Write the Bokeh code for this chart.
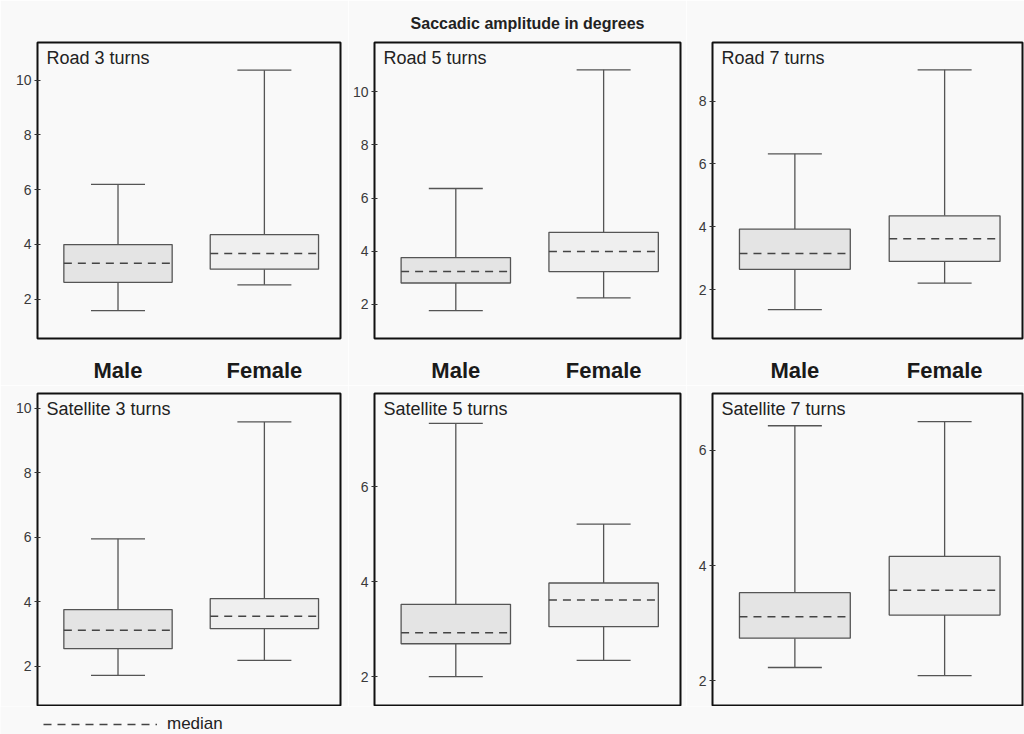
import numpy as np
from bokeh.plotting import figure
from bokeh.layouts import column, row
from bokeh.models import (Range1d, FixedTicker, Label, Legend, LegendItem,
                          Whisker, TeeHead, ColumnDataSource)
from bokeh.embed import file_html
from bokeh.resources import INLINE

# ---------------- data ----------------
title_text = "Saccadic amplitude in degrees"
categories = ["Male", "Female"]
panel_names = ["Road 3 turns", "Road 5 turns", "Road 7 turns",
               "Satellite 3 turns", "Satellite 5 turns", "Satellite 7 turns"]

# each: [lower whisker, Q1, median, Q3, upper whisker]
road3_male = [1.58, 2.61, 3.31, 3.99, 6.19]
road3_female = [2.52, 3.09, 3.66, 4.35, 10.36]
road5_male = [1.76, 2.80, 3.23, 3.76, 6.36]
road5_female = [2.24, 3.23, 3.99, 4.71, 10.83]
road7_male = [1.37, 2.65, 3.15, 3.93, 6.32]
road7_female = [2.21, 2.90, 3.62, 4.35, 8.99]
sat3_male = [1.72, 2.55, 3.12, 3.76, 5.95]
sat3_female = [2.19, 3.17, 3.55, 4.10, 9.57]
sat5_male = [2.00, 2.69, 2.92, 3.52, 7.33]
sat5_female = [2.34, 3.05, 3.61, 3.97, 5.21]
sat7_male = [2.23, 2.74, 3.11, 3.53, 6.43]
sat7_female = [2.09, 3.14, 3.57, 4.16, 6.50]

y_ticks_road3 = [2, 4, 6, 8, 10]
y_ticks_road5 = [2, 4, 6, 8, 10]
y_ticks_road7 = [2, 4, 6, 8]
y_ticks_sat3 = [2, 4, 6, 8, 10]
y_ticks_sat5 = [2, 4, 6]
y_ticks_sat7 = [2, 4, 6]

legend_label = "median"

# ---------------- style ----------------
FONT = "Liberation Sans"
BG = "#f9f9f9"
MALE_FILL = "#e4e4e4"
FEMALE_FILL = "#efefef"
LINE = "#555555"
MED_COLOR = "#444444"
MED_DASH = "8 6"
BOX_W = 0.74
CAP_PX = 54

panels = [
    (panel_names[0], road3_male, road3_female, (0.56, 11.37), y_ticks_road3),
    (panel_names[1], road5_male, road5_female, (0.71, 11.86), y_ticks_road5),
    (panel_names[2], road7_male, road7_female, (0.45, 9.86), y_ticks_road7),
    (panel_names[3], sat3_male, sat3_female, (0.79, 10.45), y_ticks_sat3),
    (panel_names[4], sat5_male, sat5_female, (1.39, 7.96), y_ticks_sat5),
    (panel_names[5], sat7_male, sat7_female, (1.57, 6.99), y_ticks_sat7),
]

widths = [348, 338, 338]
borders_lr = [(37, 8), (26, 6), (26, 2)]


def make_panel(idx):
    name, male, female, yr, yt = panels[idx]
    col = idx % 3
    top_row = idx < 3
    w = widths[col]
    bl, br = borders_lr[col]
    if top_row:
        h, bt, bb = 385, 42, 42
    else:
        h, bt, bb = 321, 8, 1
    p = figure(width=w, height=h, output_backend="svg", toolbar_location=None,
               x_range=Range1d(0.45, 2.52), y_range=Range1d(*yr),
               x_axis_location="below" if top_row else None,
               min_border_left=bl, min_border_right=br,
               min_border_top=bt, min_border_bottom=bb,
               background_fill_color=BG, border_fill_color=BG,
               outline_line_color="#111111", outline_line_width=2)
    if idx == 1:
        p.title.text = title_text
        p.title.align = "center"
        p.title.text_font = "Liberation Sans"
        p.title.text_font_size = "16px"
        p.title.text_font_style = "bold"
        p.title.text_color = "#222222"
        p.title.standoff = 22
    p.grid.visible = False

    xs = np.array([1.0, 2.0])
    stats = np.array([male, female])
    lo, q1, med, q3, hi = stats.T
    src = ColumnDataSource(dict(x=xs, lo=lo, q1=q1, med=med, q3=q3, hi=hi,
                                x0=xs - BOX_W / 2, x1=xs + BOX_W / 2,
                                fill=[MALE_FILL, FEMALE_FILL]))

    p.add_layout(Whisker(source=src, base="x", lower="q3", upper="hi",
                         line_color=LINE, line_width=1.3,
                         upper_head=TeeHead(size=CAP_PX, line_color=LINE, line_width=1.3),
                         lower_head=None))
    p.add_layout(Whisker(source=src, base="x", lower="lo", upper="q1",
                         line_color=LINE, line_width=1.3,
                         lower_head=TeeHead(size=CAP_PX, line_color=LINE, line_width=1.3),
                         upper_head=None))
    p.vbar(x="x", width=BOX_W, bottom="q1", top="q3", source=src,
           fill_color="fill", line_color=LINE, line_width=1.3)
    p.segment(x0="x0", y0="med", x1="x1", y1="med", source=src,
              line_color=MED_COLOR, line_width=1.5, line_dash=MED_DASH)

    p.add_layout(Label(x=0.45, y=yr[1], x_offset=9, y_offset=-15,
                       text=name, text_font=FONT, text_font_size="18px",
                       text_color="#222222", text_baseline="middle",
                       text_align="left"))

    ya = p.yaxis[0]
    ya.ticker = FixedTicker(ticks=yt)
    ya.axis_line_color = None
    ya.major_tick_out = 3
    ya.major_tick_in = 3
    ya.minor_tick_line_color = None
    ya.major_tick_line_color = "#333333"
    ya.major_label_standoff = 3
    ya.major_label_text_font = FONT
    ya.major_label_text_font_size = "14px"
    ya.major_label_text_color = "#3a3a3a"

    if top_row:
        xa = p.xaxis[0]
        xa.ticker = FixedTicker(ticks=[1, 2])
        xa.major_label_overrides = {1: categories[0], 2: categories[1]}
        xa.axis_line_color = None
        xa.major_tick_line_color = None
        xa.minor_tick_line_color = None
        xa.major_label_standoff = 13
        xa.major_label_text_font = FONT
        xa.major_label_text_font_size = "22px"
        xa.major_label_text_font_style = "bold"
        xa.major_label_text_color = "#1a1a1a"
    return p


figs = [make_panel(i) for i in range(6)]

# legend strip below the bottom row (proxy line with no visible points)
lf = figure(width=1024, height=28, output_backend="svg", toolbar_location=None,
            x_axis_location=None, y_axis_location=None, title_location=None,
            min_border=0, outline_line_color=None,
            background_fill_color=BG, border_fill_color=BG,
            x_range=Range1d(0, 1), y_range=Range1d(0, 1))
lf.grid.visible = False
leg_r = lf.line(x=[np.nan], y=[np.nan], line_color=MED_COLOR, line_width=1.5,
                line_dash=MED_DASH)
leg = Legend(items=[LegendItem(label=legend_label, renderers=[leg_r])],
             location=(43, 0), orientation="horizontal",
             glyph_width=114, glyph_height=18, label_standoff=10,
             label_text_font=FONT, label_text_font_size="17px",
             label_text_color="#222222", label_height=18,
             padding=0, margin=0, spacing=0,
             background_fill_alpha=0, border_line_alpha=0)
lf.add_layout(leg, "center")

layout = column(row(*figs[:3], spacing=0), row(*figs[3:], spacing=0), lf, spacing=0)

open("out.html", "w").write(file_html(layout, INLINE))
